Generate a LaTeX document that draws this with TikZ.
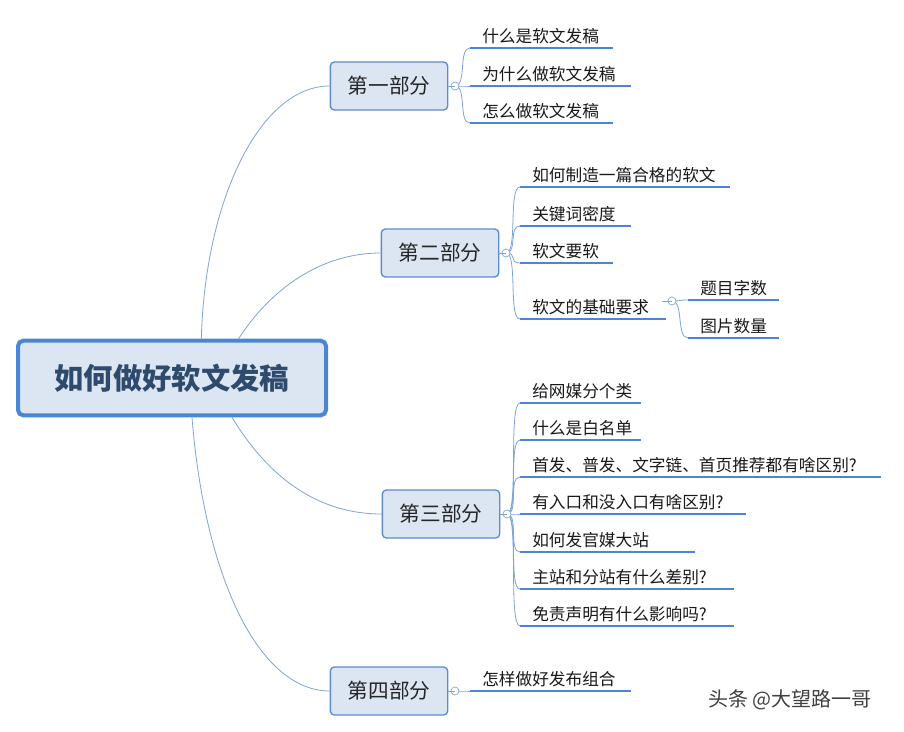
\documentclass[tikz,border=0pt]{standalone}
\usepackage{fontspec}
\setmainfont{Noto Sans CJK SC}
\usetikzlibrary{positioning,calc}
\definecolor{boxfill}{HTML}{DCE6F2}
\definecolor{boxline}{HTML}{5B8CCF}
\definecolor{rootline}{HTML}{4A86D4}
\definecolor{leafline}{HTML}{4A86D4}
\definecolor{branch}{HTML}{7FA3D6}
\definecolor{titletext}{HTML}{2E4B6E}
\tikzset{
  root/.style={draw=rootline,line width=3pt,fill=boxfill,rounded corners=4pt,minimum width=231pt,minimum height=56pt,font=\fontsize{22}{26}\selectfont\bfseries,text=titletext},
  part/.style={draw=boxline,line width=1pt,fill=boxfill,rounded corners=3pt,minimum width=88pt,minimum height=36pt,font=\fontsize{15.5}{18}\selectfont,text=black!85},
  leaf/.style={anchor=south west,inner xsep=9pt,inner ysep=3pt,align=left,font=\fontsize{12.5}{14}\selectfont,text=black!90},
  uline/.style={leafline,line width=1.6pt},
  conn/.style={branch,line width=0.6pt},
  knob/.style={circle,draw=branch,fill=white,line width=0.5pt,inner sep=0pt,minimum size=6pt},
}
\newcommand{\leaf}[5]{%
  \node[leaf,text width=#4-18pt] (#1) at (#2,#3) {#5};
  \draw[uline] (#1.south west) -- (#1.south east);}
\newcommand{\twig}[2]{%
  \draw[conn] (#1) .. controls ++(12,0) and ($(#2.south west)+(-12,0)$) .. (#2.south west);}
\begin{document}
\begin{tikzpicture}[x=0.75pt,y=-0.75pt]
\useasboundingbox[fill=white] (0,0) rectangle (904,732);
\node[root] (root) at (172,378) {如何做好软文发稿};
\node[part] (p1) at (389,86) {第一部分};
\node[part] (p2) at (440,253) {第二部分};
\node[part] (p3) at (441,514) {第三部分};
\node[part] (p4) at (389,691) {第四部分};
% root to parts
\draw[conn] ([xshift=22pt]root.north) .. controls (205,200) and (260,86) .. (p1.west);
\draw[conn] ([xshift=50pt]root.north) .. controls (270,290) and (320,253) .. (p2.west);
\draw[conn] ([xshift=45pt]root.south) .. controls (270,480) and (320,514) .. (p3.west);
\draw[conn] ([xshift=15pt]root.south) .. controls (205,580) and (260,691) .. (p4.west);
% knobs
\coordinate (k1) at (455,86);
\coordinate (k2) at (506,253);
\coordinate (k3) at (507,514);
\coordinate (k4) at (455,691);
% part one
\leaf{a1}{470}{48}{107pt}{什么是软文发稿}
\leaf{a2}{470}{86}{120pt}{为什么做软文发稿}
\leaf{a3}{470}{123}{107pt}{怎么做软文发稿}
\foreach \n in {a1,a2,a3} \twig{k1}{\n};
% part two
\leaf{b1}{520}{187}{157pt}{如何制造一篇合格的软文}
\leaf{b2}{520}{226}{83pt}{关键词密度}
\leaf{b3}{520}{263}{69pt}{软文要软}
\leaf{b4}{520}{319}{109pt}{软文的基础要求}
\foreach \n in {b1,b2,b3,b4} \twig{k2}{\n};
\coordinate (k5) at (672,301);
\leaf{c1}{688}{300}{68pt}{题目字数}
\leaf{c2}{688}{338}{68pt}{图片数量}
\foreach \n in {c1,c2} \twig{k5}{\n};
% part three
\leaf{d1}{520}{403}{90pt}{给网媒分个类}
\leaf{d2}{520}{440}{90pt}{什么是白名单}
\leaf{d3}{520}{477}{270pt}{首发、普发、文字链、首页推荐都有啥区别?}
\leaf{d4}{520}{514}{169pt}{有入口和没入口有啥区别?}
\leaf{d5}{520}{552}{131pt}{如何发官媒大站}
\leaf{d6}{520}{589}{160pt}{主站和分站有什么差别?}
\leaf{d7}{520}{626}{160pt}{免责声明有什么影响吗?}
\foreach \n in {d1,d2,d3,d4,d5,d6,d7} \twig{k3}{\n};
% part four
\leaf{e1}{470}{691}{120pt}{怎样做好发布组合}
\twig{k4}{e1};
\foreach \k in {k1,k2,k3,k4,k5} \node[knob] at (\k) {};
\draw[conn] (p1.east) -- (k1);
\draw[conn] (p2.east) -- (k2);
\draw[conn] (p3.east) -- (k3);
\draw[conn] (p4.east) -- (k4);
\draw[conn] (b4.south east) ++(-4,-18) -- (k5);
\node[text=black!75,font=\fontsize{15}{17}\selectfont] (mark) at (790,700) {头条 @大望路一哥};
\end{tikzpicture}
\end{document}
